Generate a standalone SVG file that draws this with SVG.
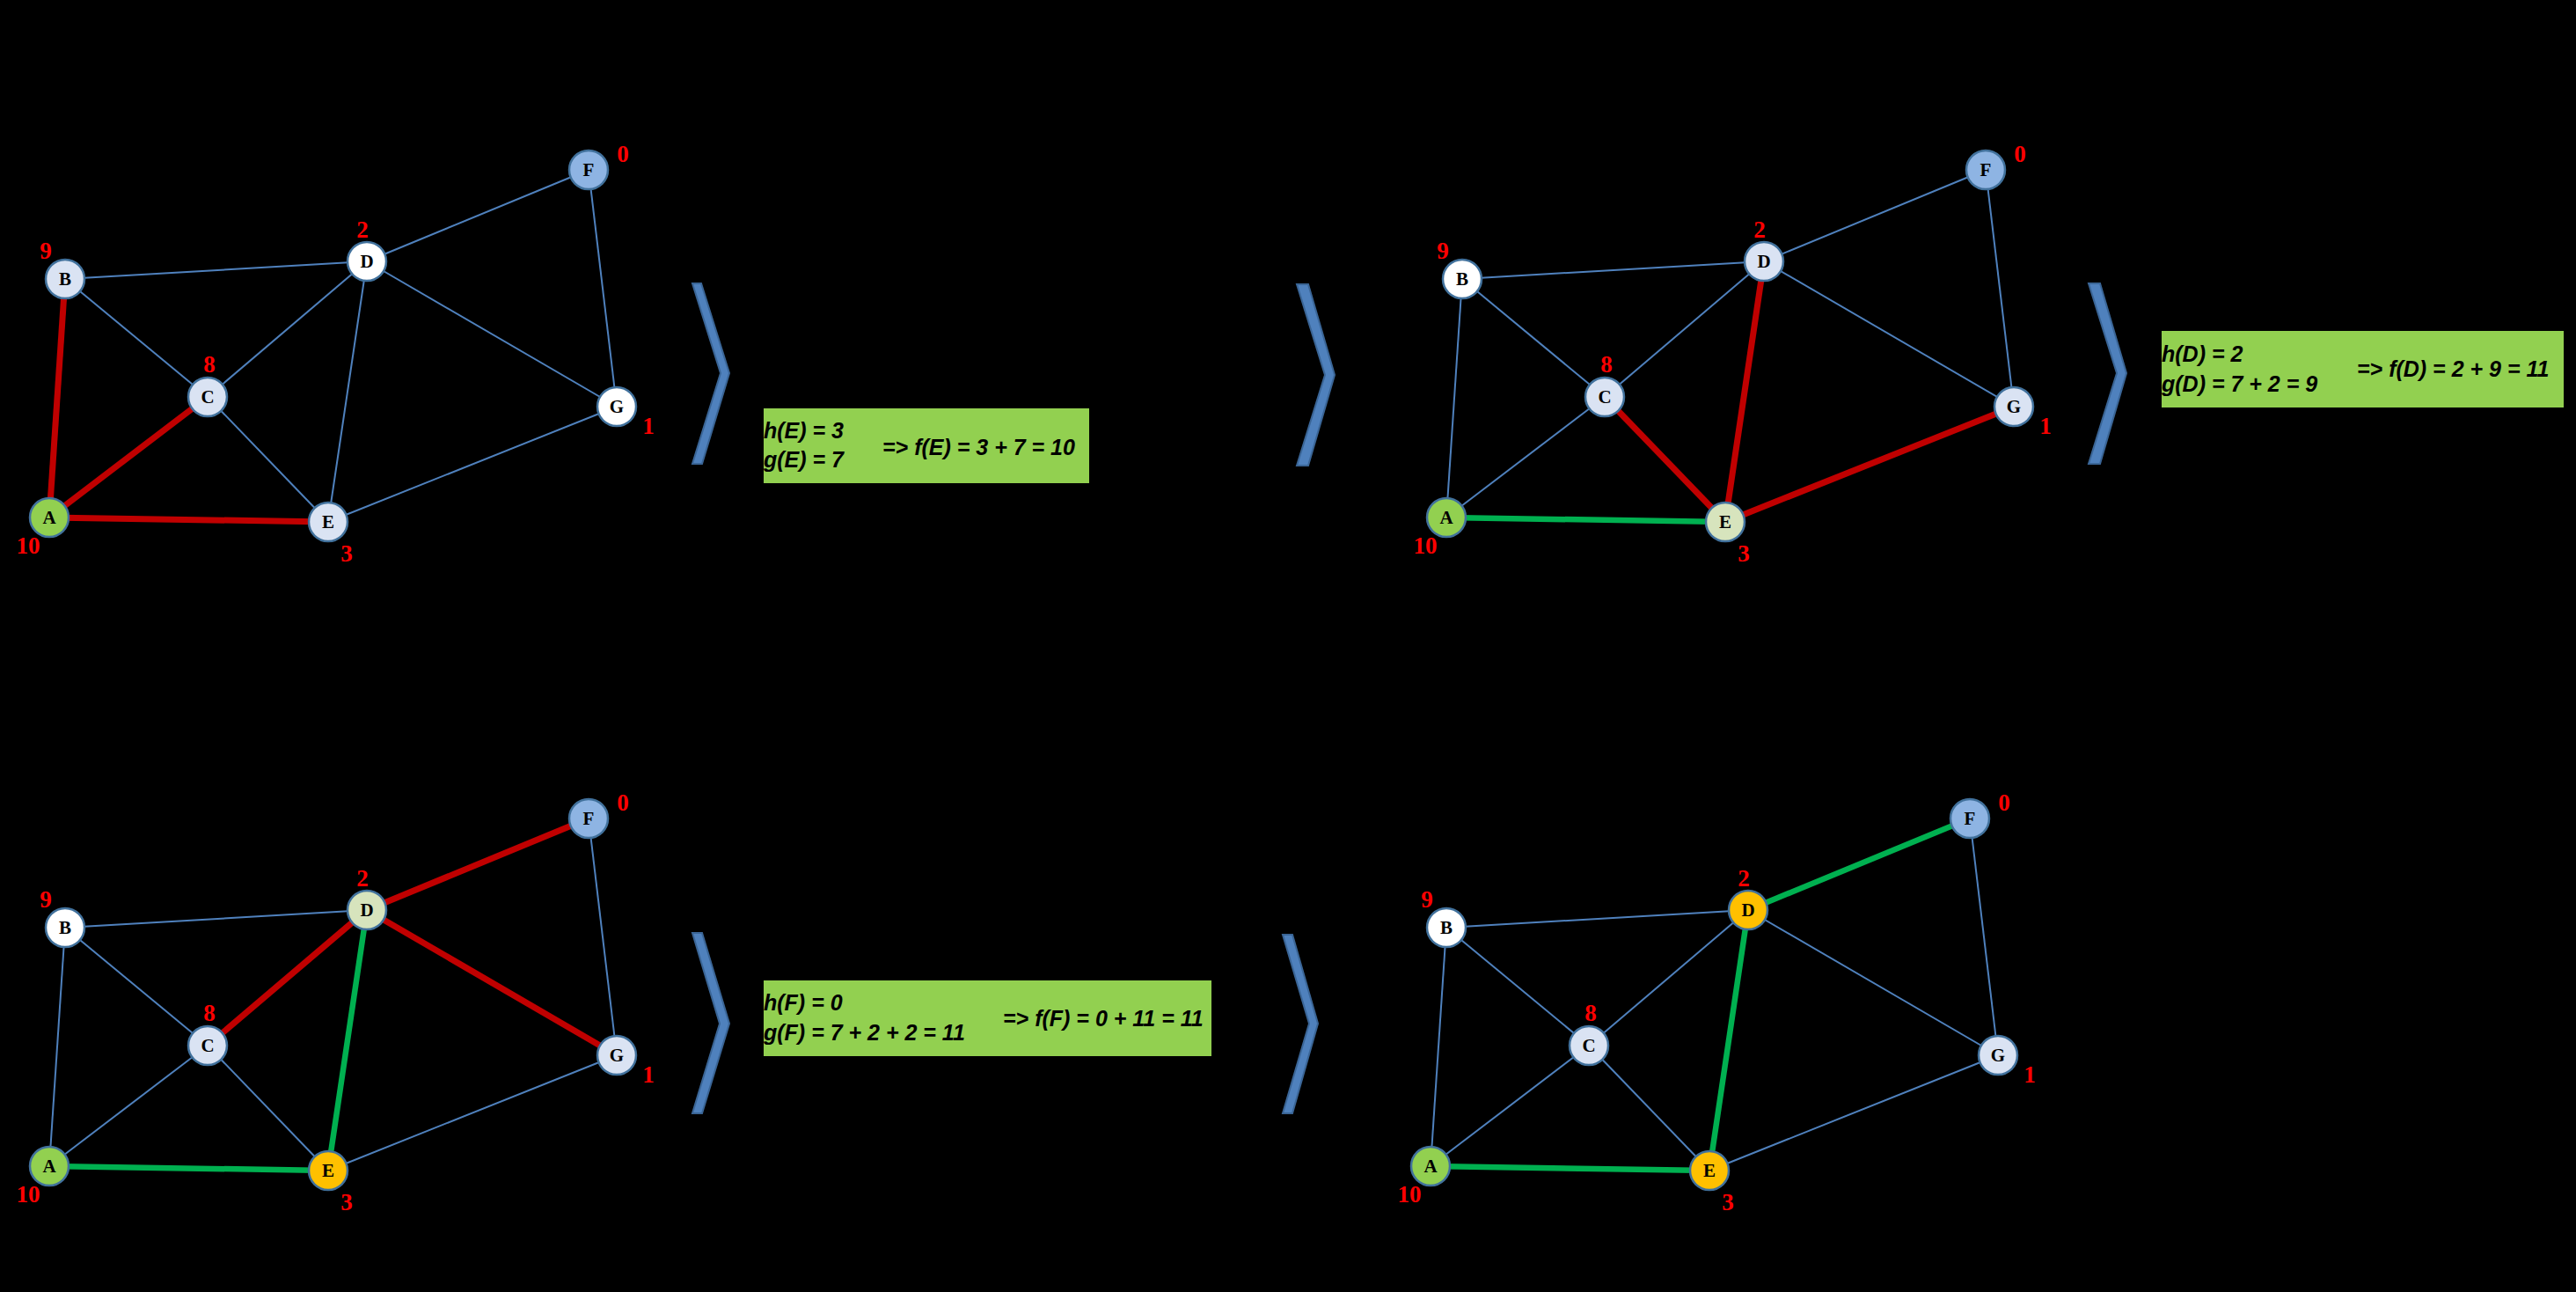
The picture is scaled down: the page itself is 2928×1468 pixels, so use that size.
<svg xmlns="http://www.w3.org/2000/svg" width="2928" height="1468" viewBox="0 0 2928 1468">
<style>
.bg{fill:#000}
.n{stroke:#41719c;stroke-width:2.5}
.w{fill:#ffffff}.lb{fill:#dae3f3}.bl{fill:#8eb4e3}.gr{fill:#92d050}.pg{fill:#d7e4bd}.or{fill:#ffc000}
.nt{font-family:"Liberation Serif",serif;font-weight:bold;font-size:21px;fill:#000;text-anchor:middle}
.h{font-family:"Liberation Serif",serif;font-weight:bold;font-size:27px;fill:#ff0000;text-anchor:middle}
.e{stroke:#4f81bd;stroke-width:2;fill:none}
.r{stroke:#c00000;stroke-width:7;fill:none}
.g{stroke:#00b050;stroke-width:6.5;fill:none}
.chev{fill:#4f81bd;stroke:#3a6596;stroke-width:2;stroke-linejoin:miter}
.box{fill:#92d050}
.bt{font-family:"Liberation Sans",Arial,sans-serif;font-weight:bold;font-style:italic;font-size:25px;fill:#000}
</style>
<rect class="bg" x="0" y="0" width="2928" height="1468"/>

<!-- Panel 1 -->
<g id="panel1">
  <g id="p1-connectors">
    <line class="e" x1="669" y1="193" x2="417" y2="297"/>
    <line class="e" x1="669" y1="193" x2="701" y2="462"/>
    <line class="e" x1="74" y1="317" x2="417" y2="297"/>
    <line class="e" x1="74" y1="317" x2="236" y2="451"/>
    <line class="e" x1="236" y1="451" x2="417" y2="297"/>
    <line class="e" x1="417" y1="297" x2="373" y2="593"/>
    <line class="e" x1="417" y1="297" x2="701" y2="462"/>
    <line class="e" x1="236" y1="451" x2="373" y2="593"/>
    <line class="e" x1="701" y1="462" x2="373" y2="593"/>
    <line class="r" x1="56" y1="588" x2="74" y2="317"/>
    <line class="r" x1="56" y1="588" x2="236" y2="451"/>
    <line class="r" x1="56" y1="588" x2="373" y2="593"/>
  </g>
  <g id="p1-F"><circle class="n bl" cx="669" cy="193" r="22"/><text class="nt" x="669" y="200">F</text><text class="h" x="708" y="184">0</text></g>
  <g id="p1-D"><circle class="n w" cx="417" cy="297" r="22"/><text class="nt" x="417" y="304">D</text><text class="h" x="412" y="270">2</text></g>
  <g id="p1-B"><circle class="n lb" cx="74" cy="317" r="22"/><text class="nt" x="74" y="324">B</text><text class="h" x="52" y="294">9</text></g>
  <g id="p1-C"><circle class="n lb" cx="236" cy="451" r="22"/><text class="nt" x="236" y="458">C</text><text class="h" x="238" y="423">8</text></g>
  <g id="p1-G"><circle class="n w" cx="701" cy="462" r="22"/><text class="nt" x="701" y="469">G</text><text class="h" x="737" y="493">1</text></g>
  <g id="p1-A"><circle class="n gr" cx="56" cy="588" r="22"/><text class="nt" x="56" y="595">A</text><text class="h" x="32" y="629">10</text></g>
  <g id="p1-E"><circle class="n lb" cx="373" cy="593" r="22"/><text class="nt" x="373" y="600">E</text><text class="h" x="394" y="638">3</text></g>
</g>

<g id="chevron1"><polygon class="chev" points="787,322 797,322 829,424 798,527 787,527 819,424"/></g>
<g id="box1">
  <rect class="box" x="868" y="464" width="370" height="85"/>
  <text class="bt" x="868" y="498">h(E) = 3</text>
  <text class="bt" x="868" y="531">g(E) = 7</text>
  <text class="bt" x="1003" y="517">=&gt; f(E) = 3 + 7 = 10</text>
</g>
<g id="chevron2"><polygon class="chev" points="1474,323 1487,323 1517,426 1487,529 1474,529 1506,426"/></g>

<!-- Panel 2 -->
<g id="panel2" transform="translate(1588,0)">
  <g id="p2-connectors">
    <line class="e" x1="669" y1="193" x2="417" y2="297"/>
    <line class="e" x1="669" y1="193" x2="701" y2="462"/>
    <line class="e" x1="74" y1="317" x2="417" y2="297"/>
    <line class="e" x1="74" y1="317" x2="236" y2="451"/>
    <line class="e" x1="236" y1="451" x2="417" y2="297"/>
    <line class="e" x1="417" y1="297" x2="701" y2="462"/>
    <line class="e" x1="74" y1="317" x2="56" y2="588"/>
    <line class="e" x1="236" y1="451" x2="56" y2="588"/>
    <line class="g" x1="56" y1="588" x2="373" y2="593"/>
    <line class="r" x1="236" y1="451" x2="373" y2="593"/>
    <line class="r" x1="417" y1="297" x2="373" y2="593"/>
    <line class="r" x1="701" y1="462" x2="373" y2="593"/>
  </g>
  <g id="p2-F"><circle class="n bl" cx="669" cy="193" r="22"/><text class="nt" x="669" y="200">F</text><text class="h" x="708" y="184">0</text></g>
  <g id="p2-D"><circle class="n lb" cx="417" cy="297" r="22"/><text class="nt" x="417" y="304">D</text><text class="h" x="412" y="270">2</text></g>
  <g id="p2-B"><circle class="n w" cx="74" cy="317" r="22"/><text class="nt" x="74" y="324">B</text><text class="h" x="52" y="294">9</text></g>
  <g id="p2-C"><circle class="n lb" cx="236" cy="451" r="22"/><text class="nt" x="236" y="458">C</text><text class="h" x="238" y="423">8</text></g>
  <g id="p2-G"><circle class="n lb" cx="701" cy="462" r="22"/><text class="nt" x="701" y="469">G</text><text class="h" x="737" y="493">1</text></g>
  <g id="p2-A"><circle class="n gr" cx="56" cy="588" r="22"/><text class="nt" x="56" y="595">A</text><text class="h" x="32" y="629">10</text></g>
  <g id="p2-E"><circle class="n pg" cx="373" cy="593" r="22"/><text class="nt" x="373" y="600">E</text><text class="h" x="394" y="638">3</text></g>
</g>

<g id="chevron3"><polygon class="chev" points="2374,322 2387,322 2417,424 2387,527 2374,527 2406,424"/></g>
<g id="box2">
  <rect class="box" x="2457" y="376" width="457" height="87"/>
  <text class="bt" x="2457" y="411">h(D) = 2</text>
  <text class="bt" x="2457" y="445">g(D) = 7 + 2 = 9</text>
  <text class="bt" x="2679" y="428">=&gt; f(D) = 2 + 9 = 11</text>
</g>

<!-- Panel 3 -->
<g id="panel3" transform="translate(0,737)">
  <g id="p3-connectors">
    <line class="e" x1="669" y1="193" x2="701" y2="462"/>
    <line class="e" x1="74" y1="317" x2="417" y2="297"/>
    <line class="e" x1="74" y1="317" x2="236" y2="451"/>
    <line class="e" x1="74" y1="317" x2="56" y2="588"/>
    <line class="e" x1="236" y1="451" x2="56" y2="588"/>
    <line class="e" x1="236" y1="451" x2="373" y2="593"/>
    <line class="e" x1="701" y1="462" x2="373" y2="593"/>
    <line class="g" x1="56" y1="588" x2="373" y2="593"/>
    <line class="g" x1="417" y1="297" x2="373" y2="593"/>
    <line class="r" x1="417" y1="297" x2="669" y2="193"/>
    <line class="r" x1="417" y1="297" x2="236" y2="451"/>
    <line class="r" x1="417" y1="297" x2="701" y2="462"/>
  </g>
  <g id="p3-F"><circle class="n bl" cx="669" cy="193" r="22"/><text class="nt" x="669" y="200">F</text><text class="h" x="708" y="184">0</text></g>
  <g id="p3-D"><circle class="n pg" cx="417" cy="297" r="22"/><text class="nt" x="417" y="304">D</text><text class="h" x="412" y="270">2</text></g>
  <g id="p3-B"><circle class="n w" cx="74" cy="317" r="22"/><text class="nt" x="74" y="324">B</text><text class="h" x="52" y="294">9</text></g>
  <g id="p3-C"><circle class="n lb" cx="236" cy="451" r="22"/><text class="nt" x="236" y="458">C</text><text class="h" x="238" y="423">8</text></g>
  <g id="p3-G"><circle class="n lb" cx="701" cy="462" r="22"/><text class="nt" x="701" y="469">G</text><text class="h" x="737" y="493">1</text></g>
  <g id="p3-A"><circle class="n gr" cx="56" cy="588" r="22"/><text class="nt" x="56" y="595">A</text><text class="h" x="32" y="629">10</text></g>
  <g id="p3-E"><circle class="n or" cx="373" cy="593" r="22"/><text class="nt" x="373" y="600">E</text><text class="h" x="394" y="638">3</text></g>
</g>

<g id="chevron4"><polygon class="chev" points="787,1060 798,1060 829,1163 798,1265 787,1265 818,1163"/></g>
<g id="box3">
  <rect class="box" x="868" y="1114" width="509" height="86"/>
  <text class="bt" x="868" y="1148">h(F) = 0</text>
  <text class="bt" x="868" y="1182">g(F) = 7 + 2 + 2 = 11</text>
  <text class="bt" x="1140" y="1166">=&gt; f(F) = 0 + 11 = 11</text>
</g>
<g id="chevron5"><polygon class="chev" points="1458,1062 1469,1062 1498,1163 1469,1265 1458,1265 1488,1163"/></g>

<!-- Panel 4 -->
<g id="panel4" transform="translate(1570,737)">
  <g id="p4-connectors">
    <line class="e" x1="669" y1="193" x2="701" y2="462"/>
    <line class="e" x1="74" y1="317" x2="417" y2="297"/>
    <line class="e" x1="74" y1="317" x2="236" y2="451"/>
    <line class="e" x1="74" y1="317" x2="56" y2="588"/>
    <line class="e" x1="236" y1="451" x2="56" y2="588"/>
    <line class="e" x1="236" y1="451" x2="417" y2="297"/>
    <line class="e" x1="236" y1="451" x2="373" y2="593"/>
    <line class="e" x1="417" y1="297" x2="701" y2="462"/>
    <line class="e" x1="701" y1="462" x2="373" y2="593"/>
    <line class="g" x1="56" y1="588" x2="373" y2="593"/>
    <line class="g" x1="417" y1="297" x2="373" y2="593"/>
    <line class="g" x1="417" y1="297" x2="669" y2="193"/>
  </g>
  <g id="p4-F"><circle class="n bl" cx="669" cy="193" r="22"/><text class="nt" x="669" y="200">F</text><text class="h" x="708" y="184">0</text></g>
  <g id="p4-D"><circle class="n or" cx="417" cy="297" r="22"/><text class="nt" x="417" y="304">D</text><text class="h" x="412" y="270">2</text></g>
  <g id="p4-B"><circle class="n w" cx="74" cy="317" r="22"/><text class="nt" x="74" y="324">B</text><text class="h" x="52" y="294">9</text></g>
  <g id="p4-C"><circle class="n lb" cx="236" cy="451" r="22"/><text class="nt" x="236" y="458">C</text><text class="h" x="238" y="423">8</text></g>
  <g id="p4-G"><circle class="n lb" cx="701" cy="462" r="22"/><text class="nt" x="701" y="469">G</text><text class="h" x="737" y="493">1</text></g>
  <g id="p4-A"><circle class="n gr" cx="56" cy="588" r="22"/><text class="nt" x="56" y="595">A</text><text class="h" x="32" y="629">10</text></g>
  <g id="p4-E"><circle class="n or" cx="373" cy="593" r="22"/><text class="nt" x="373" y="600">E</text><text class="h" x="394" y="638">3</text></g>
</g>
</svg>
